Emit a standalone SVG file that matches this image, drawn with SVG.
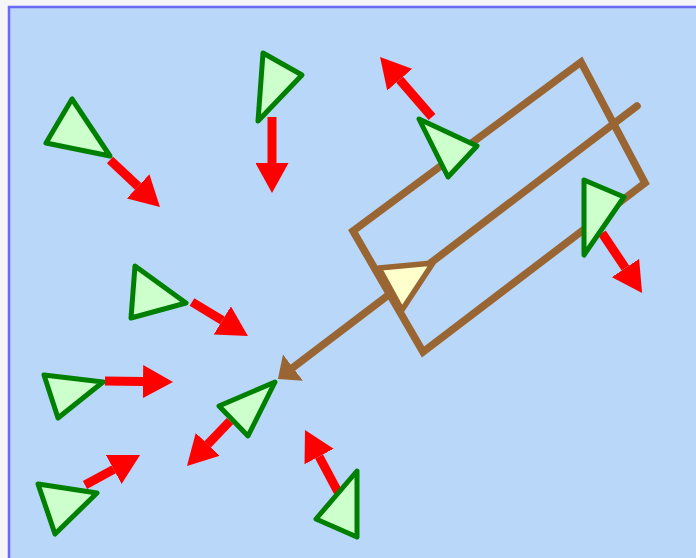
<svg xmlns="http://www.w3.org/2000/svg" width="696" height="558" viewBox="0 0 696 558">
  <style>
    .boid { fill: #ccffcc; stroke: #008000; stroke-width: 5; stroke-linejoin: round; }
    .vel { stroke: #ff0000; stroke-width: 9; fill: none; marker-end: url(#redHead); }
    .brown { stroke: #996633; stroke-width: 7.5; fill: none; }
  </style>
  <defs>
    <marker id="redHead" markerUnits="userSpaceOnUse" viewBox="0 0 30 33" refX="0" refY="16.5" markerWidth="30" markerHeight="33" orient="auto">
      <path d="M0,0 L30,16.5 L0,33 z" fill="#ff0000"/>
    </marker>
    <marker id="brownHead" markerUnits="userSpaceOnUse" viewBox="0 0 19 33" refX="0" refY="16.5" markerWidth="19" markerHeight="33" orient="auto">
      <path d="M0,0 L19,16.5 L0,33 z" fill="#996633"/>
    </marker>
  </defs>
  <rect x="0" y="0" width="696" height="558" fill="#f6f6f8"/>
  <rect x="9" y="7" width="720" height="580" fill="#b9d7f9" stroke="#6a6af5" stroke-width="2.5"/>

  <g id="obstacle">
    <polygon class="brown" points="353,231 581,62 645,183 423,352" stroke-linejoin="miter"/>
  </g>
  <g id="connectors">
    <line class="brown" x1="637" y1="106" x2="293" y2="367.6" stroke-linecap="round" marker-end="url(#brownHead)"/>
    <line class="vel" x1="110" y1="160" x2="138.1" y2="186.4"/>
    <line class="vel" x1="272" y1="117" x2="272" y2="163"/>
    <line class="vel" x1="432" y1="117" x2="399.7" y2="79.7"/>
    <line class="vel" x1="602" y1="233" x2="625.4" y2="268"/>
    <line class="vel" x1="192" y1="302" x2="222.3" y2="320.4"/>
    <line class="vel" x1="105" y1="381" x2="143" y2="381.5"/>
    <line class="vel" x1="230" y1="421" x2="207.7" y2="444.3"/>
    <line class="vel" x1="85" y1="485" x2="113.7" y2="469.4"/>
    <line class="vel" x1="338" y1="492" x2="319.1" y2="456.5"/>
  </g>
  <g id="leader">
    <polygon points="379,268 433,263 402,310" fill="#ffffcc" stroke="#996633" stroke-width="5.5" stroke-linejoin="round"/>
  </g>
  <g id="boid1"><polygon class="boid" points="72,99 46,143 110,156"/></g>
  <g id="boid2"><polygon class="boid" points="263,53 258,121 302,75"/></g>
  <g id="boid3"><polygon class="boid" points="419,119 477,146 448,177"/></g>
  <g id="boid4"><polygon class="boid" points="584,180 624,197 584,255"/></g>
  <g id="boid5"><polygon class="boid" points="135,266 186,303 131,318"/></g>
  <g id="boid6"><polygon class="boid" points="44,375 103,382 58,418"/></g>
  <g id="boid7"><polygon class="boid" points="219,406 275,382 248,436"/></g>
  <g id="boid8"><polygon class="boid" points="38,484 97,493 55,534"/></g>
  <g id="boid9"><polygon class="boid" points="357,471 316,519 357,537"/></g>
</svg>
